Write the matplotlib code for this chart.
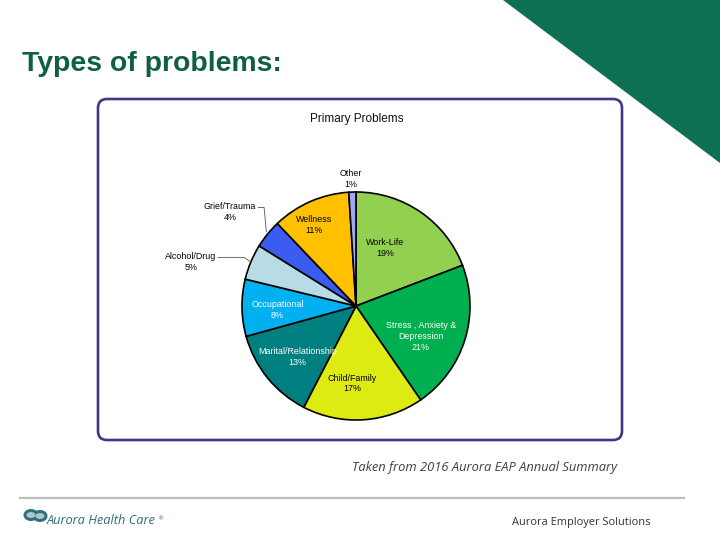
import numpy as np
import matplotlib
matplotlib.use("Agg")
import matplotlib.pyplot as plt
from matplotlib.patches import Polygon, FancyBboxPatch, Ellipse

# ---- data ----
categories = ["Work-Life", "Stress , Anxiety &\nDepression", "Child/Family",
              "Marital/Relationship", "Occupational", "Alcohol/Drug",
              "Grief/Trauma", "Wellness", "Other"]
values = [19, 21, 17, 13, 8, 5, 4, 11, 1]
pct_labels = ["19%", "21%", "17%", "13%", "8%", "5%", "4%", "11%", "1%"]
chart_title = "Primary Problems"
slide_title = "Types of problems:"
source_note = "Taken from 2016 Aurora EAP Annual Summary"

# ---- styles ----
colors = ["#92D050", "#00B050", "#DDEB12", "#007F80", "#00B0F0",
          "#B8DCE6", "#3A5CF0", "#FFC000", "#A0A8F0"]
text_colors = ["black", "white", "black", "white", "white",
               "black", "black", "black", "black"]
# label placement relative to wedge mid-angle: (angle offset deg, radius)
label_place = [(8, 0.57), (-8, 0.63), (-6.6, 0.68), (1.7, 0.68), (2, 0.69),
               (7.8, 1.50), (2.4, 1.38), (3.8, 0.80), (0.5, 1.115)]
outside = [False, False, False, False, False, True, True, False, False]

W, H = 720, 540
fig = plt.figure(figsize=(W / 100, H / 100), dpi=100)
bg = fig.add_axes([0, 0, 1, 1])
bg.set_xlim(0, W)
bg.set_ylim(H, 0)
bg.axis("off")

# green triangle top right
bg.add_patch(Polygon([[503, 0], [720, 0], [720, 163]], closed=True,
                     facecolor="#0E7052", edgecolor="none"))
# slide title
bg.text(22, 64, slide_title, fontsize=20.4, fontweight="bold", color="#0F5F46",
        family="Liberation Sans", va="center", ha="left")

# chart frame
bg.add_patch(FancyBboxPatch((98, 99), 524, 341,
                            boxstyle="round,pad=0,rounding_size=9",
                            facecolor="white", edgecolor="#3D3A85", linewidth=1.9))
bg.text(357, 119, chart_title, fontsize=8.5, ha="center", va="center",
        family="Liberation Sans", color="#111111")

# source note
bg.text(484, 468, source_note, fontsize=9.3, style="italic", ha="center",
        va="center", color="#404040", family="Open Sans")

# footer
bg.plot([20, 684], [498, 498], color="#BEBEBE", linewidth=1.6)
bg.add_patch(Ellipse((31, 515), 15, 12, facecolor="#2F6E7C", edgecolor="none"))
bg.add_patch(Ellipse((40, 516), 15, 12, facecolor="#2F6E7C", edgecolor="none"))
bg.add_patch(Ellipse((31, 515), 9, 6, facecolor="#A9C7CF", edgecolor="none"))
bg.add_patch(Ellipse((40, 516), 9, 6, facecolor="#A9C7CF", edgecolor="none"))
ahc = bg.text(47, 521, "Aurora Health Care", fontsize=9.2, style="italic",
              color="#2F6E7C", ha="left", va="center", family="Open Sans")
fig.canvas.draw()
bb = ahc.get_window_extent(renderer=fig.canvas.get_renderer())
bg.text(bb.x1 + 1, 519, "\u00ae", fontsize=4.5, color="#2F6E7C", ha="left",
        va="center")
bg.text(650, 522, "Aurora Employer Solutions", fontsize=7.9, color="#333333",
        ha="right", va="center", family="Open Sans")

# ---- pie ----
cx, cy, R = 356, 306, 114
ax = fig.add_axes([(cx - 1.5 * R) / W, (H - (cy + 1.5 * R)) / H, 3 * R / W, 3 * R / H])
wedges, _ = ax.pie(values, colors=colors, startangle=90, counterclock=False,
                   radius=1.0, center=(0, 0), frame=True,
                   wedgeprops=dict(edgecolor="black", linewidth=1.2))
ax.set_xlim(-1.5, 1.5)
ax.set_ylim(-1.5, 1.5)
ax.axis("off")

for i, w in enumerate(wedges):
    mid = 0.5 * (w.theta1 + w.theta2)
    off, r = label_place[i]
    a = np.deg2rad(mid + off)
    x, y = r * np.cos(a), r * np.sin(a)
    ax.text(x, y, categories[i] + "\n" + pct_labels[i], ha="center", va="center",
            fontsize=6.4, color=text_colors[i], family="Liberation Sans",
            linespacing=1.25)
    if outside[i]:
        am = np.deg2rad(mid)
        ex, ey = 1.0 * np.cos(am), 1.0 * np.sin(am)
        ly = y + 0.04
        if i == 5:
            pts = [(x + 0.24, ly), (ex - 0.06, ly), (ex, ey)]
        else:
            pts = [(x + 0.25, ly), (ex - 0.03, ly), (ex - 0.01, ey + 0.02)]
        ax.plot([p[0] for p in pts], [p[1] for p in pts], color="#555555",
                linewidth=0.6)

fig.savefig("out.png", dpi=100)
